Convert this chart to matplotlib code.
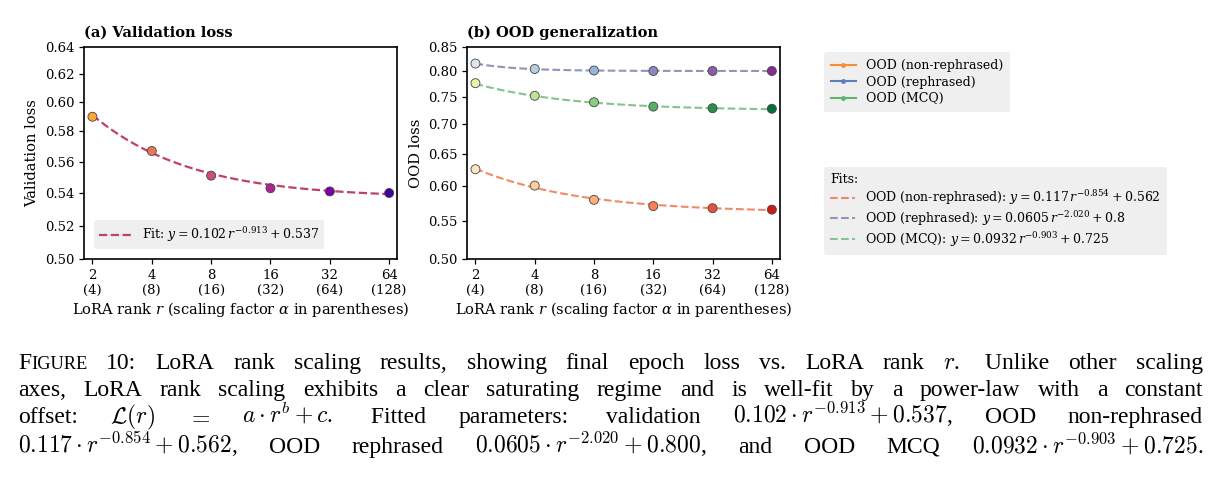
import numpy as np
import matplotlib
matplotlib.use("Agg")
import matplotlib.pyplot as plt
from matplotlib.lines import Line2D
from matplotlib.ticker import FixedLocator, NullLocator, FuncFormatter

# data
ranks = [2, 4, 8, 16, 32, 64]
alphas = [4, 8, 16, 32, 64, 128]
val_loss = [0.590, 0.567, 0.551, 0.543, 0.541, 0.540]
ood_nonreph = [0.626, 0.601, 0.580, 0.571, 0.568, 0.566]
ood_reph = [0.815, 0.804, 0.801, 0.800, 0.800, 0.800]
ood_mcq = [0.776, 0.752, 0.740, 0.732, 0.729, 0.728]

# fitted power law parameters (a, b, c) as printed in the legends
fit_val = (0.102, -0.913, 0.537)
fit_nonreph = (0.117, -0.854, 0.562)
fit_reph = (0.0605, -2.020, 0.8)
fit_mcq = (0.0932, -0.903, 0.725)

val_ticks = [0.50, 0.52, 0.54, 0.56, 0.58, 0.60, 0.62, 0.64]
ood_ticks = [0.50, 0.55, 0.60, 0.65, 0.70, 0.75, 0.80, 0.85]

W, H = 1219, 483
plt.rcParams['font.family'] = ['DejaVu Serif']
plt.rcParams['mathtext.fontset'] = 'dejavuserif'
plt.rcParams['font.size'] = 9

fig = plt.figure(figsize=(W / 100, H / 100), dpi=100)


def px_axes(x0, y0, x1, y1):
    return fig.add_axes([x0 / W, 1 - y1 / H, (x1 - x0) / W, (y1 - y0) / H])


ax1 = px_axes(84.3, 46.7, 397.3, 259.3)
ax2 = px_axes(467.3, 46.7, 780.0, 259.3)

r_fine = np.logspace(np.log2(2), np.log2(64), 200, base=2)


def powlaw(p, r):
    return p[0] * r ** p[1] + p[2]


def style_axis(ax, ticks):
    ax.set_xscale('log', base=2)
    ax.set_yscale('log')
    ax.set_xlim(ranks[0] / 1.1, ranks[-1] * 1.1)
    ax.set_ylim(ticks[0], ticks[-1])
    ax.xaxis.set_major_locator(FixedLocator(ranks))
    ax.xaxis.set_minor_locator(NullLocator())
    ax.set_xticklabels([f"{r}\n({a})" for r, a in zip(ranks, alphas)])
    ax.yaxis.set_major_locator(FixedLocator(ticks))
    ax.yaxis.set_minor_locator(NullLocator())
    ax.yaxis.set_major_formatter(FuncFormatter(lambda v, p: f"{v:.2f}"))
    ax.yaxis.set_minor_formatter(FuncFormatter(lambda v, p: ""))
    ax.tick_params(labelsize=9.5, length=3.5, width=0.9)
    for s in ax.spines.values():
        s.set_linewidth(1.2)
    ax.set_xlabel(r"LoRA rank $r$ (scaling factor $\alpha$ in parentheses)", fontsize=10.5, labelpad=2)


# (a) validation loss
val_colors = plt.colormaps['plasma'](np.linspace(0.8, 0.1, 6))
ax1.plot(r_fine, powlaw(fit_val, r_fine), '--', color='#c0406c', lw=1.6, zorder=2,
         label=r"Fit: $y = 0.102\,r^{-0.913} + 0.537$")
ax1.scatter(ranks, val_loss, c=val_colors, s=42, edgecolors='#444444', linewidths=0.6, zorder=3)
style_axis(ax1, val_ticks)
ax1.set_ylabel("Validation loss", fontsize=10.5)
ax1.set_title("(a) Validation loss", loc='left', fontweight='bold', fontsize=10.5, pad=7)
leg_a = ax1.legend(loc='lower left', fontsize=9, facecolor='#efefef', edgecolor='none',
                   framealpha=1, handlelength=2.6, borderaxespad=0.8, borderpad=0.4)

# (b) OOD generalization
series = [
    (ood_nonreph, fit_nonreph, 'OrRd', (0.15, 0.8), '#ee8b66',
     r"OOD (non-rephrased): $y = 0.117\,r^{-0.854} + 0.562$"),
    (ood_reph, fit_reph, 'BuPu', (0.15, 0.8), '#8e95b9',
     r"OOD (rephrased): $y = 0.0605\,r^{-2.020} + 0.8$"),
    (ood_mcq, fit_mcq, 'YlGn', (0.2, 0.85), '#82c38e',
     r"OOD (MCQ): $y = 0.0932\,r^{-0.903} + 0.725$"),
]
fit_handles = []
for vals, p, cmap, (c0, c1), lc, lab in series:
    h, = ax2.plot(r_fine, powlaw(p, r_fine), '--', color=lc, lw=1.5, zorder=2, label=lab)
    fit_handles.append(h)
    cols = plt.colormaps[cmap](np.linspace(c0, c1, 6))
    ax2.scatter(ranks, vals, c=cols, s=42, edgecolors='#444444', linewidths=0.6, zorder=3)
style_axis(ax2, ood_ticks)
ax2.set_ylabel("OOD loss", fontsize=10.5)
ax2.set_title("(b) OOD generalization", loc='left', fontweight='bold', fontsize=10.5, pad=7)

data_handles = [
    Line2D([], [], color='#f28e3c', marker='o', ms=2.5, lw=1.5),
    Line2D([], [], color='#5b7ec2', marker='o', ms=2.5, lw=1.5),
    Line2D([], [], color='#5db46a', marker='o', ms=2.5, lw=1.5),
]
leg1 = fig.legend(data_handles, ["OOD (non-rephrased)", "OOD (rephrased)", "OOD (MCQ)"],
                  loc='upper left', bbox_to_anchor=(824 / W, 1 - 52 / H), fontsize=9,
                  facecolor='#efefef', edgecolor='none', framealpha=1,
                  handlelength=2.0, labelspacing=0.3, borderaxespad=0, borderpad=0.55)
leg2 = fig.legend(fit_handles, [s[5] for s in series], title="Fits:", alignment='left',
                  loc='upper left', bbox_to_anchor=(824 / W, 1 - 167 / H), fontsize=9,
                  title_fontsize=9, facecolor='#efefef', edgecolor='none', framealpha=1,
                  handlelength=2.0, labelspacing=0.15, borderaxespad=0, borderpad=0.5)

# caption, justified between the text margins
renderer = fig.canvas.get_renderer()
cap_size = 17
sc_size = cap_size * 0.78
cap_left, cap_right = 18, 1203


def caption_line(y_px, tokens):
    placed = []
    total = 0
    for tok in tokens:
        pieces = tok if isinstance(tok, list) else [(tok, cap_size)]
        parts = []
        w = 0
        for s, size in pieces:
            t = fig.text(0, 1 - y_px / H, s, fontsize=size, family='Liberation Serif',
                         math_fontfamily='cm', va='baseline', ha='left')
            parts.append((t, w))
            w += t.get_window_extent(renderer).width
        placed.append((parts, w))
        total += w
    gap = (cap_right - cap_left - total) / (len(placed) - 1)
    x = cap_left
    for parts, w in placed:
        for t, off in parts:
            t.set_x((x + off) / W)
        x += w + gap


caption_line(369, [[("F", cap_size), ("IGURE", sc_size)], "10:", "LoRA", "rank", "scaling",
                   "results,", "showing", "final", "epoch", "loss", "vs.", "LoRA", "rank",
                   r"$r$.", " Unlike", "other", "scaling"])
caption_line(396, ["axes,", "LoRA", "rank", "scaling", "exhibits", "a", "clear", "saturating",
                   "regime", "and", "is", "well-fit", "by", "a", "power-law", "with", "a", "constant"])
caption_line(423, ["offset:", r"$\mathcal{L}(r)$", r"$=$", r"$a\cdot r^{b}+c$.", " Fitted",
                   "parameters:", " validation", r"$0.102\cdot r^{-0.913}+0.537$,", "OOD",
                   "non-rephrased"])
caption_line(453, [r"$0.117\cdot r^{-0.854}+0.562$,", "OOD", "rephrased",
                   r"$0.0605\cdot r^{-2.020}+0.800$,", "and", "OOD", "MCQ",
                   r"$0.0932\cdot r^{-0.903}+0.725$."])

fig.savefig("out.png", dpi=100)
